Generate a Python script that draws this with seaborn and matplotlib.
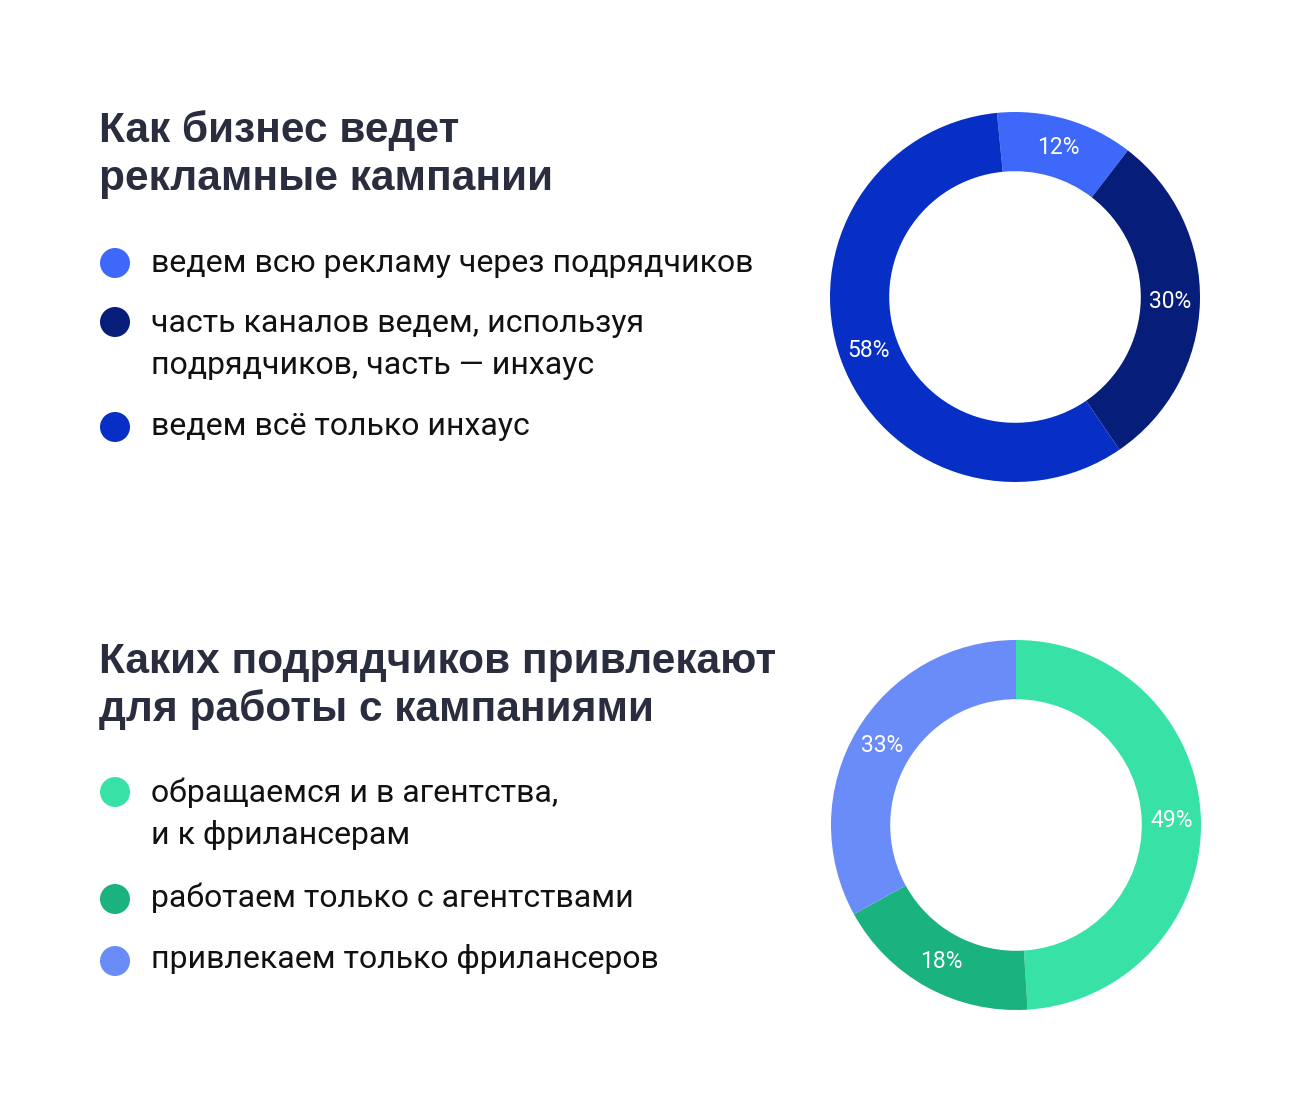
import matplotlib
matplotlib.use("Agg")
import matplotlib.pyplot as plt
from matplotlib.patches import Circle
import seaborn as sns

# ---------------- data ----------------
title_top = "Как бизнес ведет\nрекламные кампании"
labels_top = ["ведем всю рекламу через подрядчиков",
              "часть каналов ведем, используя\nподрядчиков, часть — инхаус",
              "ведем всё только инхаус"]
values_top = [12, 30, 58]
colors_top = ["#3D68FA", "#061E7A", "#072FC6"]

title_bot = "Каких подрядчиков привлекают\nдля работы с кампаниями"
labels_bot = ["обращаемся и в агентства,\nи к фрилансерам",
              "работаем только с агентствами",
              "привлекаем только фрилансеров"]
values_bot = [49, 18, 33]
colors_bot = ["#38E2A7", "#1AB27E", "#6A8CF9"]

# ---------------- style ----------------
sns.set_theme(style="white")
plt.rcParams['font.family'] = ['Roboto', 'DejaVu Sans']

W, H = 1297, 1094
fig = plt.figure(figsize=(W / 100, H / 100), dpi=100)
fig.patch.set_facecolor("white")

# overlay axes in pixel coordinates
ov = fig.add_axes([0, 0, 1, 1])
ov.set_xlim(0, W)
ov.set_ylim(H, 0)
ov.axis("off")

TITLE_COLOR = "#2A2D3E"
TEXT_COLOR = "#111111"


def block(title, title_base, labels, colors, dot_y, text_base):
    lines = title.split("\n")
    for i, ln in enumerate(lines):
        ov.text(99, title_base + i * 48, ln, fontsize=30.5, fontweight="bold",
                family=["Liberation Sans", "DejaVu Sans"], color=TITLE_COLOR,
                va="baseline", ha="left")
    for lab, col, dy, tb in zip(labels, colors, dot_y, text_base):
        ov.add_patch(Circle((115, dy), 15, color=col, lw=0))
        for j, ln in enumerate(lab.split("\n")):
            ov.text(151, tb + j * 42, ln, fontsize=23, color=TEXT_COLOR,
                    va="baseline", ha="left")


block(title_top, 142, labels_top, colors_top, [263, 322, 427], [272, 332, 435])
block(title_bot, 673, labels_bot, colors_bot, [792, 899, 961], [802, 907, 968])


def donut(cx, cy, r, values, colors, start):
    ax = fig.add_axes([(cx - r) / W, 1 - (cy + r) / H, 2 * r / W, 2 * r / H])
    wedges, texts, autotexts = ax.pie(
        values, colors=colors, startangle=start, counterclock=False,
        autopct=lambda p: f"{p:.0f}%", pctdistance=0.84,
        wedgeprops=dict(width=0.32, edgecolor="none", linewidth=0),
        textprops=dict(color="white", fontsize=16.5))
    ax.set_xlim(-1, 1)
    ax.set_ylim(-1, 1)
    ax.set_aspect("equal")
    ax.axis("off")
    return ax


donut(1015, 297, 185, values_top, colors_top, 95.6)
donut(1016, 825, 185, values_bot, colors_bot, 90)

fig.savefig("out.png", dpi=100, facecolor="white")
